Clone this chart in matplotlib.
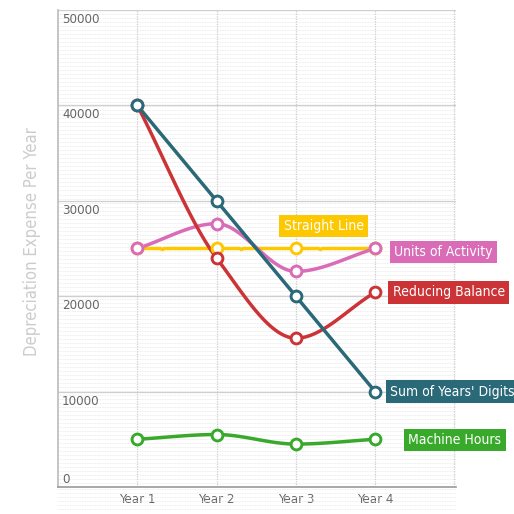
#!/usr/bin/env python3
"""
Depreciation methods compared: expense per year, four years
"""
import numpy as np
import matplotlib
matplotlib.use("Agg")
import matplotlib.pyplot as plt

plt.rcParams['font.family'] = ['DejaVu Sans']
plt.rcParams['font.stretch'] = 'condensed'

years = ["Year 1", "Year 2", "Year 3", "Year 4"]
straight_line = [25000, 25000, 25000, 25000]
units_of_activity = [25000, 27600, 22600, 25000]
reducing_balance = [40000, 24000, 15600, 20400]
sum_of_years = [40000, 30000, 20000, 10000]
machine_hours = [5000, 5500, 4500, 5000]

series = [
    ("Straight Line", straight_line, "#fdc800"),
    ("Units of Activity", units_of_activity, "#d96bb7"),
    ("Reducing Balance", reducing_balance, "#cc3336"),
    ("Sum of Years' Digits", sum_of_years, "#2a6978"),
    ("Machine Hours", machine_hours, "#38a92b"),
]


def monotone_curve(x, y, n=40):
    # Fritsch-Carlson monotone cubic, just for drawing the smooth line
    x = np.asarray(x, float)
    y = np.asarray(y, float)
    h = np.diff(x)
    d = np.diff(y) / h
    m = np.zeros_like(y)
    m[0], m[-1] = d[0], d[-1]
    for i in range(1, len(y) - 1):
        if d[i - 1] * d[i] <= 0:
            m[i] = 0
        else:
            m[i] = (h[i - 1] + h[i]) * 3 / ((2 * h[i] + h[i - 1]) / d[i - 1] + (h[i] + 2 * h[i - 1]) / d[i])
    xs, ys = [], []
    for i in range(len(h)):
        t = np.linspace(0, 1, n)
        h00 = 2 * t**3 - 3 * t**2 + 1
        h10 = t**3 - 2 * t**2 + t
        h01 = -2 * t**3 + 3 * t**2
        h11 = t**3 - t**2
        xs.append(x[i] + t * h[i])
        ys.append(h00 * y[i] + h10 * h[i] * m[i] + h01 * y[i + 1] + h11 * h[i] * m[i + 1])
    return np.concatenate(xs), np.concatenate(ys)


fig = plt.figure(figsize=(5.14, 5.14), dpi=100)
ax = fig.add_axes([58 / 514, 27 / 514, 398 / 514, 477 / 514])

# fine dotted background
for yy in np.arange(0, 50001, 420):
    ax.axhline(yy, color="#e6e6e6", lw=0.6, ls=(0, (1, 1)), zorder=0)
band = fig.add_axes([58 / 514, 4 / 514, 398 / 514, 23 / 514])
band.set_xlim(0, 1)
band.set_ylim(0, 23)
for yy in np.arange(1, 23, 4):
    band.axhline(yy, color="#e8e8e8", lw=0.6, ls=(0, (1, 1)))
band.axis("off")

for yy in range(10000, 50001, 10000):
    ax.axhline(yy, color="#cfcfcf", lw=0.9, zorder=1)
xpos = np.arange(1, len(years) + 1)
for xx in list(xpos) + [5]:
    ax.axvline(xx, color="#cccccc", lw=0.9, ls=(0, (1, 1)), zorder=1)

for name, vals, color in series:
    cx, cy = monotone_curve(xpos, vals)
    ax.plot(cx, cy, color=color, lw=2.5, zorder=3, solid_capstyle="round")
    ax.plot(xpos, vals, "o", ms=7.8, mfc="white", mec=color, mew=2.1, zorder=4)

ax.set_xlim(0, 5.02)
ax.set_ylim(0, 50000)
ax.set_xticks(xpos)
ax.set_xticklabels(years, color="#666666", fontsize=9.5)
ax.tick_params(axis="x", length=0, pad=4)
ax.set_yticks([])
for side in ["top", "right"]:
    ax.spines[side].set_visible(False)
ax.spines["left"].set_color("#bbbbbb")
ax.spines["bottom"].set_color("#999999")
ax.spines["left"].set_linewidth(1.2)
ax.spines["bottom"].set_linewidth(1.2)

for yy in range(10000, 50001, 10000):
    ax.text(0.05, yy - 1000, str(yy), color="#666666", fontsize=9.5, va="center", ha="left")
ax.text(0.05, 800, "0", color="#666666", fontsize=9.5, va="center", ha="left")

fig.text(32 / 514, 1 - 242 / 514, "Depreciation Expense Per Year", rotation=90,
         color="#cccccc", fontsize=12, ha="center", va="center")

# direct labels
box = dict(boxstyle="square,pad=0.3", ec="none")
ax.text(3.35, 27350, "Straight Line", color="white", fontsize=10, ha="center", va="center",
        bbox=dict(box, fc="#fdc800"))
label_y = {"Units of Activity": 24600, "Reducing Balance": 20400,
           "Sum of Years' Digits": 10000, "Machine Hours": 4950}
label_x = {"Units of Activity": 4.24, "Reducing Balance": 4.22,
           "Sum of Years' Digits": 4.19, "Machine Hours": 4.42}
for name, vals, color in series[1:]:
    ax.text(label_x[name], label_y[name], name, color="white", fontsize=10, ha="left",
            va="center", bbox=dict(box, fc=color), clip_on=False, zorder=5)

fig.savefig("out.png", dpi=100)
